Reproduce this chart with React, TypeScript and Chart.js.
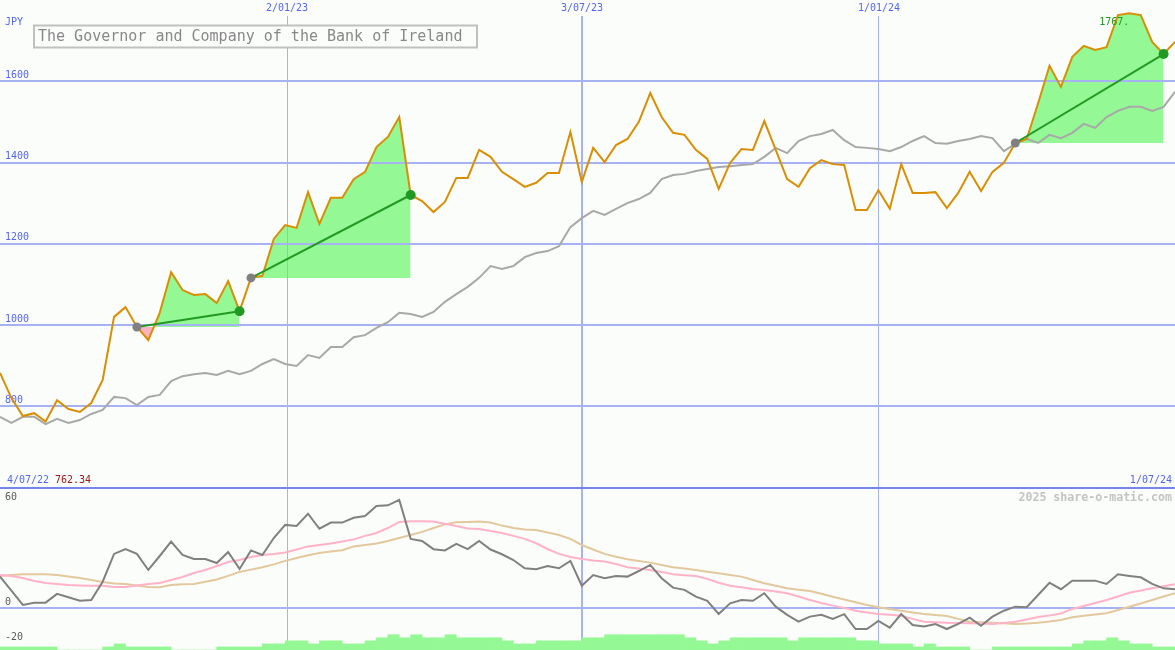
import React, { useEffect, useRef } from 'react';
import { Chart, registerables } from 'chart.js';

Chart.register(...registerables);

// ---------------- data ----------------
const currency = 'JPY';
const title = 'The Governor and Company of the Bank of Ireland';
const watermark = '2025 share-o-matic.com';
const startDate = '4/07/22';
const endDate = '1/07/24';

// x positions (weekly sample index) of the date grid lines and their labels
const dateTickPos = [25.16, 51.02, 77.05];
const dateTickLabels = ['2/01/23', '3/07/23', '1/01/24'];

const priceTicks = [600, 800, 1000, 1200, 1400, 1600];
const oscTicks = [-20, 0, 60];

// weekly closing price (JPY)
const price = [
  882, 820, 776, 783, 762.34, 815, 793, 786, 808, 865,
  1020, 1044, 995, 963, 1030, 1130, 1086, 1074, 1076, 1054,
  1108, 1034, 1116, 1121, 1212, 1246, 1239, 1327, 1249, 1313,
  1313, 1359, 1377, 1438, 1463, 1512, 1320, 1305, 1278, 1303,
  1362, 1362, 1431, 1414, 1377, 1359, 1340, 1350, 1374, 1374,
  1475, 1352, 1436, 1401, 1443, 1458, 1500, 1571, 1512, 1473,
  1468, 1431, 1409, 1335, 1399, 1433, 1431, 1502, 1431, 1359,
  1340, 1386, 1406, 1396, 1394, 1283, 1283, 1332, 1286, 1396,
  1325, 1325, 1327, 1288, 1325, 1377, 1330, 1377, 1399, 1448,
  1458, 1546, 1638, 1586, 1660, 1687, 1677, 1684, 1763, 1767.3,
  1763, 1697, 1667, 1697,
];

// moving average of the price
const priceAvg = [
  774, 759, 774, 774, 756, 769, 759, 766, 781, 791,
  823, 820, 803, 823, 828, 862, 874, 879, 882, 877,
  887, 879, 887, 904, 916, 904, 899, 926, 919, 946,
  946, 970, 975, 993, 1007, 1030, 1027, 1020, 1032, 1057,
  1076, 1094, 1116, 1145, 1138, 1145, 1167, 1177, 1182, 1194,
  1241, 1263, 1281, 1271, 1286, 1300, 1310, 1325, 1359, 1369,
  1372, 1379, 1384, 1389, 1391, 1394, 1396, 1414, 1436, 1423,
  1453, 1465, 1470, 1480, 1455, 1438, 1436, 1433, 1428, 1438,
  1453, 1465, 1448, 1446, 1453, 1458, 1465, 1460, 1428, 1446,
  1458, 1448, 1468, 1460, 1473, 1495, 1485, 1512, 1527, 1537,
  1537, 1527, 1537, 1574,
];

// oscillator (dark grey), fast average (pink), slow average (tan)
const osc = [
  18.0, 10.0, 1.8, 3.1, 3.1, 8.1, 6.2, 4.2, 4.6, 15.1,
  31.0, 33.8, 31.0, 21.8, 29.8, 38.0, 30.4, 28.1, 28.1, 25.8,
  32.1, 22.4, 33.0, 30.4, 40.1, 47.6, 47.0, 54.0, 45.4, 48.9,
  48.9, 51.7, 52.7, 58.4, 58.8, 61.9, 39.6, 38.4, 33.7, 33.0,
  36.7, 33.7, 38.4, 33.5, 30.8, 27.5, 22.8, 22.2, 24.1, 22.8,
  27.0, 12.8, 18.9, 17.1, 18.4, 18.0, 21.2, 24.7, 17.1, 11.7,
  10.4, 6.5, 4.1, -3.4, 2.7, 4.6, 4.2, 8.5, 0.8, -3.9,
  -7.8, -4.9, -3.9, -6.2, -3.5, -12.0, -12.0, -7.4, -11.2, -3.4,
  -9.7, -10.6, -9.1, -12.0, -9.1, -5.5, -10.1, -4.9, -1.5, 0.8,
  0.5, 7.5, 14.5, 10.8, 15.7, 15.7, 15.7, 13.8, 19.3, 18.4,
  17.6, 13.8, 11.3, 10.8,
];

const oscFast = [
  18.9, 18.4, 17.2, 15.5, 14.4, 13.8, 13.2, 12.9, 12.7, 12.7,
  12.1, 12.1, 12.9, 13.8, 14.4, 16.1, 17.8, 20.1, 21.8, 24.1,
  26.4, 27.5, 29.2, 30.4, 31.0, 31.8, 33.5, 35.3, 36.1, 36.9,
  38.1, 39.3, 41.3, 43.0, 45.8, 49.3, 49.7, 49.7, 49.6, 48.3,
  47.0, 45.6, 45.3, 44.1, 43.0, 41.3, 39.6, 37.1, 33.8, 31.0,
  29.2, 28.1, 27.2, 26.6, 25.2, 23.4, 22.7, 21.8, 20.7, 19.3,
  18.8, 18.4, 16.7, 14.5, 12.8, 11.9, 10.9, 10.4, 9.5, 8.5,
  6.6, 4.6, 2.9, 1.4, 0.1, -1.5, -2.5, -3.4, -3.8, -4.4,
  -6.2, -7.8, -8.1, -8.4, -8.5, -8.7, -8.9, -9.1, -8.6, -7.8,
  -6.5, -5.1, -4.2, -3.1, -0.5, 1.2, 2.9, 4.6, 6.6, 8.8,
  10.1, 11.3, 12.5, 13.6,
];

const oscSlow = [
  18.4, 18.9, 19.3, 19.3, 19.3, 18.9, 18.1, 17.2, 16.1, 14.9,
  14.1, 13.8, 12.9, 12.1, 11.9, 13.2, 13.6, 13.8, 15.1, 16.4,
  18.4, 20.7, 22.0, 23.4, 25.0, 27.0, 28.7, 30.2, 31.5, 32.4,
  33.1, 35.3, 36.1, 36.9, 38.4, 40.1, 41.8, 43.6, 45.8, 47.9,
  49.1, 49.3, 49.6, 49.0, 47.2, 45.8, 45.0, 44.7, 43.3, 41.8,
  39.6, 36.1, 33.5, 31.0, 29.4, 27.9, 27.0, 26.0, 24.7, 23.4,
  22.6, 21.8, 20.8, 19.9, 18.9, 18.0, 16.1, 14.2, 12.8, 11.3,
  10.5, 9.8, 8.2, 6.5, 4.9, 3.3, 1.8, 0.5, -0.5, -1.5,
  -2.5, -3.4, -3.9, -4.5, -6.2, -7.8, -8.1, -8.4, -8.7, -9.1,
  -8.8, -8.4, -7.7, -6.8, -5.3, -4.4, -3.7, -3.0, -1.1, 0.8,
  2.6, 4.6, 6.6, 8.5,
];

// weekly volume level (one bar per interval between samples)
const volume = [
  1, 1, 1, 1, 1, 0, 0, 0, 0, 1, 2, 1, 1, 1, 1, 0, 0, 0, 0, 1,
  1, 1, 1, 2, 2, 3, 3, 2, 3, 3, 2, 2, 3, 4, 5, 4, 5, 4, 4, 5,
  4, 4, 4, 4, 3, 2, 2, 3, 3, 3, 3, 4, 4, 5, 5, 5, 5, 5, 5, 5,
  4, 3, 2, 3, 4, 4, 4, 4, 4, 3, 4, 4, 4, 4, 4, 3, 3, 2, 2, 2,
  1, 2, 1, 1, 1, 0, 0, 1, 1, 1, 1, 1, 1, 1, 2, 3, 3, 4, 3, 2,
  2, 1, 1,
];

// trades: [entry sample index, exit sample index]
const trades = [
  [12, 21],
  [22, 36],
  [89, 102],
];

// ---------------- styles ----------------
const BG = '#fbfdfb';
const BLUE = '#5566ee';
const GRID = '#a6b2f2';
const SEP = '#7585ee';
const ORANGE = '#d98e04';
const AVG = '#a8a8a8';
const OSC = '#808080';
const PINK_LINE = '#ffb2c8';
const TAN_LINE = '#e2c89c';
const FILL_UP = '#94f894';
const FILL_DOWN = '#f8b2c4';
const TREND = '#229922';
const DOT_START = '#808080';
const VOL = '#94f894';
const MONO = "'DejaVu Sans Mono', monospace";
const VOL_MAX = 213;

const pts = (arr: number[]) => arr.map((v, i) => ({ x: i, y: v }));

const zeroFit = (s: any) => {
  s.paddingTop = 0;
  s.paddingBottom = 0;
  s.paddingLeft = 0;
  s.paddingRight = 0;
  if (s.isHorizontal()) s.height = 0;
  else s.width = 0;
};

const annotations = {
  id: 'annotations',
  afterDraw(chart: any) {
    const { ctx, chartArea: a } = chart;
    const xs = chart.scales.x;
    const ys = chart.scales.y;
    const minVal = Math.min(...price);
    const maxVal = Math.max(...price);
    const maxIdx = price.indexOf(maxVal);
    ctx.save();
    ctx.textBaseline = 'alphabetic';
    ctx.textAlign = 'left';
    ctx.font = `10px ${MONO}`;
    ctx.fillStyle = BLUE;
    ctx.fillText(currency, a.left + 5, a.top + 25);

    // title box
    ctx.fillStyle = BG;
    ctx.fillRect(a.left + 34, a.top + 25.5, 443, 22);
    ctx.strokeStyle = '#c0c0c0';
    ctx.lineWidth = 2;
    ctx.strokeRect(a.left + 34, a.top + 25.5, 443, 22);
    ctx.font = `15px ${MONO}`;
    ctx.fillStyle = '#888888';
    ctx.fillText(title, a.left + 38, a.top + 41);

    // range dates and minimum at the foot of the price panel
    const by = ys.bottom - 4.5;
    ctx.font = `10px ${MONO}`;
    ctx.fillStyle = BLUE;
    ctx.fillText(startDate, a.left + 7, by);
    ctx.fillStyle = '#a01818';
    ctx.fillText(minVal.toFixed(2), a.left + 55, by);
    ctx.textAlign = 'right';
    ctx.fillStyle = BLUE;
    ctx.fillText(endDate, a.right - 3, by);

    // watermark
    ctx.font = `bold 11.6px ${MONO}`;
    ctx.fillStyle = '#c4c4c4';
    ctx.fillText(watermark, a.right - 3, ys.bottom + 13.5);

    // maximum label
    ctx.font = `10px ${MONO}`;
    ctx.fillStyle = TREND;
    ctx.fillText(maxVal.toFixed(2).slice(0, 5), xs.getPixelForValue(maxIdx), ys.getPixelForValue(maxVal) + 12);
    ctx.restore();
  },
};

export default function App() {
  const ref = useRef<HTMLCanvasElement | null>(null);

  useEffect(() => {
    if (!ref.current) return;

    const trendSets = trades.map(([s, e]) => ({
      type: 'line',
      data: [
        { x: s, y: price[s] },
        { x: e, y: price[e] },
      ],
      borderColor: TREND,
      borderWidth: 2,
      pointRadius: [4.5, 5],
      pointBackgroundColor: [DOT_START, TREND],
      pointBorderWidth: 0,
      yAxisID: 'y',
      fill: false,
    }));

    const fillSets = trades.map(([s, e]) => ({
      type: 'line',
      data: pts(price).slice(s, e + 1),
      borderColor: 'rgba(0,0,0,0)',
      borderWidth: 0,
      pointRadius: 0,
      yAxisID: 'y',
      fill: { target: { value: price[s] }, above: FILL_UP, below: FILL_DOWN },
    }));

    const chart = new Chart(ref.current, {
      type: 'line',
      data: {
        datasets: [
          ...trendSets,
          { type: 'line', data: pts(price), borderColor: ORANGE, borderWidth: 2, pointRadius: 0, yAxisID: 'y', fill: false },
          { type: 'line', data: pts(priceAvg), borderColor: AVG, borderWidth: 2, pointRadius: 0, yAxisID: 'y', fill: false },
          { type: 'line', data: pts(osc), borderColor: OSC, borderWidth: 2, pointRadius: 0, yAxisID: 'yo', fill: false },
          { type: 'line', data: pts(oscFast), borderColor: PINK_LINE, borderWidth: 2, pointRadius: 0, yAxisID: 'yo', fill: false },
          { type: 'line', data: pts(oscSlow), borderColor: TAN_LINE, borderWidth: 2, pointRadius: 0, yAxisID: 'yo', fill: false },
          {
            type: 'bar',
            data: volume.map((v, i) => ({ x: i + 0.5, y: v })),
            backgroundColor: VOL,
            borderWidth: 0,
            barPercentage: 1,
            categoryPercentage: 1,
            yAxisID: 'yv',
          },
          ...fillSets,
        ] as any,
      },
      options: {
        responsive: false,
        maintainAspectRatio: false,
        devicePixelRatio: 1,
        animation: false,
        events: [],
        layout: { padding: 0, autoPadding: false },
        plugins: {
          legend: { display: false },
          tooltip: { enabled: false },
          title: { display: false },
          filler: { drawTime: 'beforeDraw' },
        },
        scales: {
          x: {
            type: 'linear',
            position: 'top',
            min: 0,
            max: price.length - 1,
            offset: false,
            afterBuildTicks: (s: any) => {
              s.ticks = dateTickPos.map((v) => ({ value: v }));
            },
            afterFit: zeroFit,
            grid: {
              offset: false,
              drawTicks: false,
              color: GRID,
              lineWidth: (c: any) => (c.index === 1 ? 2 : 1),
            },
            border: { display: false },
            ticks: {
              mirror: true,
              padding: 2,
              autoSkip: false,
              maxRotation: 0,
              minRotation: 0,
              color: BLUE,
              font: { family: MONO, size: 10, lineHeight: 1.2 },
              showLabelBackdrop: true,
              backdropColor: BG,
              backdropPadding: 2,
              callback: (_v: any, i: number) => dateTickLabels[i],
            },
          },
          y: {
            type: 'linear',
            position: 'left',
            stack: 'panels',
            stackWeight: 3,
            weight: 2,
            min: 600,
            max: 1800,
            afterBuildTicks: (s: any) => {
              s.ticks = priceTicks.map((v) => ({ value: v }));
            },
            afterFit: zeroFit,
            grid: {
              drawTicks: false,
              lineWidth: 2,
              color: (c: any) => (c.tick && c.tick.value === 600 ? SEP : GRID),
            },
            border: { display: false },
            ticks: {
              mirror: true,
              padding: 5,
              labelOffset: -6,
              color: BLUE,
              font: { family: MONO, size: 10, lineHeight: 1.2 },
              callback: (v: any) => (v === 600 ? '' : String(v)),
            },
          },
          yo: {
            type: 'linear',
            position: 'left',
            stack: 'panels',
            stackWeight: 1,
            weight: 1,
            min: -24,
            max: 69,
            afterBuildTicks: (s: any) => {
              s.ticks = oscTicks.map((v) => ({ value: v }));
            },
            afterFit: zeroFit,
            grid: {
              drawTicks: false,
              lineWidth: 2,
              color: (c: any) => (c.tick && c.tick.value === 0 ? GRID : 'rgba(0,0,0,0)'),
            },
            border: { display: false },
            ticks: {
              mirror: true,
              padding: 5,
              labelOffset: (c: any) => (c && c.tick && c.tick.value === -20 ? -1 : -6),
              color: '#5a5a5a',
              font: { family: MONO, size: 10, lineHeight: 1.2 },
              callback: (v: any) => String(v),
            },
          },
          yv: {
            type: 'linear',
            position: 'right',
            display: false,
            min: 0,
            max: VOL_MAX,
          },
        },
      } as any,
      plugins: [annotations],
    });

    return () => chart.destroy();
  }, []);

  return (
    <div style={{ position: 'absolute', left: 0, top: 0, width: 1175, height: 650, background: BG }}>
      <canvas ref={ref} width={1175} height={650} style={{ display: 'block' }} />
    </div>
  );
}
